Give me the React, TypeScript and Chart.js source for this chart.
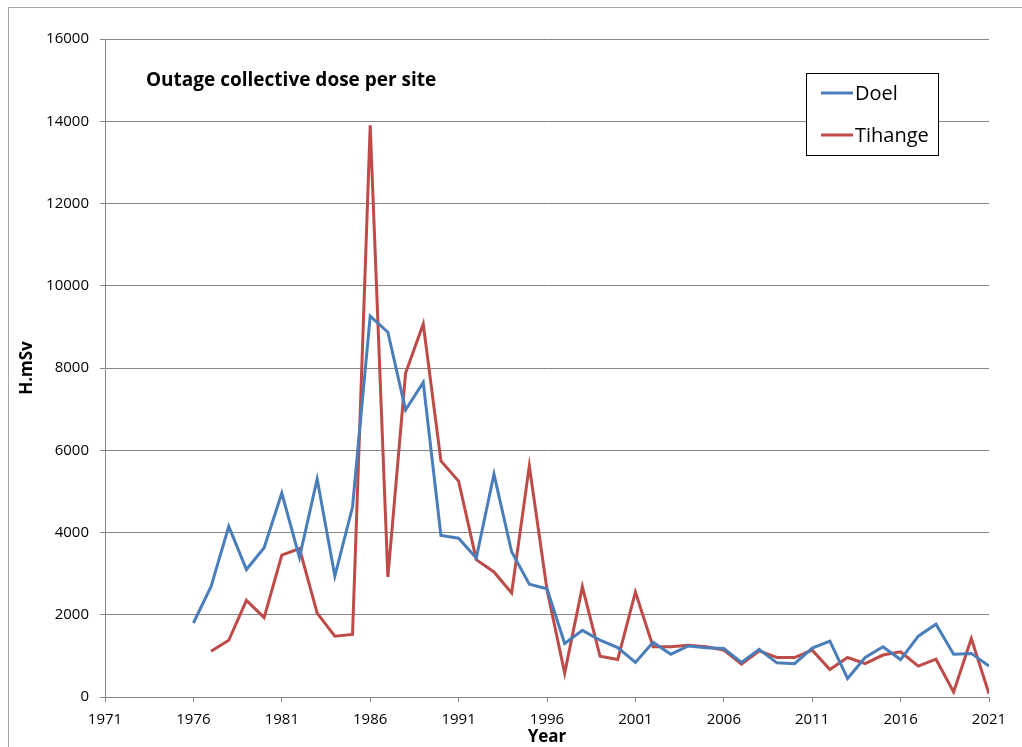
import React, { useEffect, useRef } from "react";
import { Chart, registerables } from "chart.js";

Chart.register(...registerables);

const years = [
  1976, 1977, 1978, 1979, 1980, 1981, 1982, 1983, 1984, 1985,
  1986, 1987, 1988, 1989, 1990, 1991, 1992, 1993, 1994, 1995,
  1996, 1997, 1998, 1999, 2000, 2001, 2002, 2003, 2004, 2005,
  2006, 2007, 2008, 2009, 2010, 2011, 2012, 2013, 2014, 2015,
  2016, 2017, 2018, 2019, 2020, 2021,
];

const doel = [
  1800, 2690, 4150, 3100, 3630, 4960, 3390, 5300, 2940, 4620,
  9260, 8870, 6980, 7650, 3930, 3860, 3380, 5420, 3530, 2740,
  2630, 1300, 1620, 1380, 1200, 840, 1330, 1040, 1240, 1200,
  1180, 840, 1160, 830, 810, 1190, 1360, 450, 960, 1220,
  910, 1480, 1770, 1040, 1060, 750,
];

const tihange = [
  null, 1110, 1380, 2350, 1930, 3450, 3610, 2040, 1480, 1520,
  13900, 2920, 7870, 9070, 5740, 5250, 3340, 3040, 2530, 5620,
  2610, 580, 2680, 990, 910, 2550, 1220, 1220, 1260, 1220,
  1140, 800, 1120, 960, 960, 1140, 670, 960, 810, 1020,
  1100, 750, 920, 120, 1420, 80,
];

const xTicks = [1971, 1976, 1981, 1986, 1991, 1996, 2001, 2006, 2011, 2016, 2021];
const yTicks = [0, 2000, 4000, 6000, 8000, 10000, 12000, 14000, 16000];

const chartTitle = "Outage collective dose per site";
const FONT = "'Open Sans', Lato, sans-serif";

const overlayPlugin = {
  id: "overlay",
  beforeDraw(chart: any) {
    const ctx = chart.ctx;
    ctx.save();
    ctx.fillStyle = "#ffffff";
    ctx.fillRect(0, 0, chart.width, chart.height);
    ctx.strokeStyle = "#a6a6a6";
    ctx.lineWidth = 1;
    ctx.beginPath();
    ctx.moveTo(8.5, chart.height + 2);
    ctx.lineTo(8.5, 7.5);
    ctx.lineTo(chart.width + 2, 7.5);
    ctx.stroke();
    ctx.restore();
  },
  afterDraw(chart: any) {
    const ctx = chart.ctx;
    ctx.save();
    // title
    ctx.fillStyle = "#000000";
    ctx.font = `bold 19px ${FONT}`;
    ctx.textBaseline = "alphabetic";
    ctx.textAlign = "left";
    ctx.fillText(chartTitle, 146, 86);
    // legend
    const bx = 806.5, by = 73.5, bw = 132, bh = 82;
    ctx.fillStyle = "#ffffff";
    ctx.fillRect(bx, by, bw, bh);
    ctx.strokeStyle = "#000000";
    ctx.lineWidth = 1;
    ctx.strokeRect(bx, by, bw, bh);
    const rows = [93, 135];
    chart.data.datasets.forEach((ds: any, i: number) => {
      const y = rows[i];
      ctx.strokeStyle = ds.borderColor;
      ctx.lineWidth = 3;
      ctx.beginPath();
      ctx.moveTo(821, y);
      ctx.lineTo(853, y);
      ctx.stroke();
      ctx.fillStyle = "#000000";
      ctx.font = `20px ${FONT}`;
      ctx.textBaseline = "alphabetic";
      ctx.fillText(ds.label, 855, y + 7);
    });
    ctx.restore();
  },
};

export default function App() {
  const ref = useRef<HTMLCanvasElement>(null);

  useEffect(() => {
    if (!ref.current) return;
    const chart = new Chart(ref.current, {
      type: "line",
      data: {
        labels: years,
        datasets: [
          {
            label: "Doel",
            data: years.map((y, i) => ({ x: y, y: doel[i] })),
            borderColor: "#4a7ebb",
            borderWidth: 3,
            pointRadius: 0,
            tension: 0,
            spanGaps: false,
          },
          {
            label: "Tihange",
            data: years.map((y, i) => ({ x: y, y: tihange[i] })),
            borderColor: "#be4b48",
            borderWidth: 3,
            pointRadius: 0,
            tension: 0,
            spanGaps: false,
          },
        ],
      },
      options: {
        animation: false,
        responsive: false,
        events: [],
        layout: { padding: { left: 0, right: 33, top: 39, bottom: 0 } },
        plugins: {
          legend: { display: false },
          tooltip: { enabled: false },
          title: { display: false },
        },
        scales: {
          x: {
            type: "linear",
            min: 1971,
            max: 2021,
            afterBuildTicks: (scale: any) => {
              scale.ticks = xTicks.map((v) => ({ value: v }));
            },
            afterFit: (scale: any) => {
              scale.height = 50;
            },
            grid: {
              drawOnChartArea: false,
              drawTicks: true,
              tickLength: 5,
              color: "#868686",
            },
            border: { display: true, color: "#868686", width: 1 },
            ticks: {
              autoSkip: false,
              maxRotation: 0,
              padding: 9,
              color: "#000000",
              font: { family: FONT, size: 15 },
              callback: (v: any) => String(v),
            },
            title: {
              display: true,
              text: "Year",
              color: "#000000",
              font: { family: FONT, size: 17, weight: "bold" },
              padding: { top: 0, bottom: 0 },
            },
          },
          y: {
            min: 0,
            max: 16000,
            afterBuildTicks: (scale: any) => {
              scale.ticks = yTicks.map((v) => ({ value: v }));
            },
            afterFit: (scale: any) => {
              scale.width = 105;
            },
            grid: {
              drawOnChartArea: true,
              drawTicks: true,
              tickLength: 5,
              color: "#868686",
              lineWidth: 1,
            },
            border: { display: true, color: "#868686", width: 1 },
            ticks: {
              padding: 11,
              color: "#000000",
              font: { family: FONT, size: 15 },
              callback: (v: any) => String(v),
            },
            title: {
              display: true,
              text: "H.mSv",
              color: "#000000",
              font: { family: FONT, size: 17, weight: "bold" },
              padding: { top: 17, bottom: 0 },
            },
          },
        },
      },
      plugins: [overlayPlugin],
    } as any);
    return () => chart.destroy();
  }, []);

  return (
    <div style={{ position: "fixed", left: 0, top: 0, width: 1022, height: 747 }}>
      <canvas ref={ref} width={1022} height={747} style={{ display: "block" }} />
    </div>
  );
}
